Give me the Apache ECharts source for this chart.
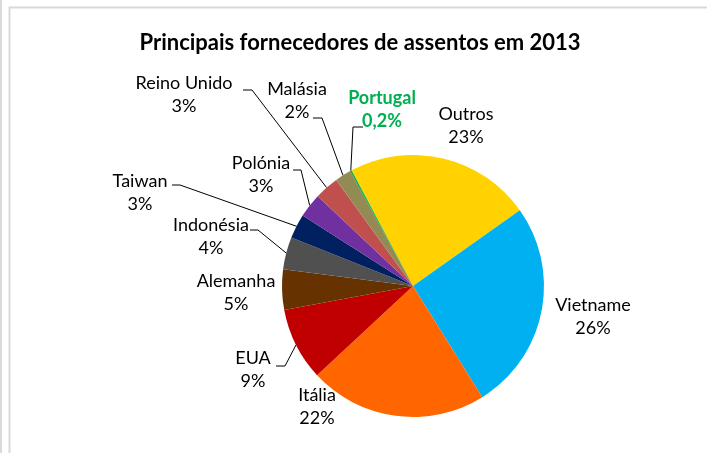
<!DOCTYPE html>
<html>
<head>
<meta charset="utf-8">
<script src="https://cdn.jsdelivr.net/npm/echarts@6/dist/echarts.min.js"></script>
<style>
html,body{margin:0;padding:0;background:#fff;}
#c{width:707px;height:453px;}
</style>
</head>
<body>
<div id="c"></div>
<script>
// ---- data ----
var categories = ['Outros','Vietname','Itália','EUA','Alemanha','Indonésia','Taiwan','Polónia','Reino Unido','Malásia','Portugal'];
var values = [23, 26, 22, 9, 5, 4, 3, 3, 3, 2, 0.2];
var titleText = 'Principais fornecedores de assentos em 2013';

// ---- styles / layout ----
var colors = ['#FFD200','#00B0F0','#FF6600','#C00000','#663300','#505050','#002060','#7030A0','#C0504D','#948A54','#00B050'];
var FONT = 'Lato';
// label block centres
var labelPos = [[466,126],[593,317],[317,407],[253,370],[236,293],[211,237],[140,193],[261,175],[184,95],[297,101],[382,110]];
// leader lines: [labelEnd, elbow] or null
var leader = [null,null,null,[[276,366],[285,366]],null,[[250,230],[258,230]],[[172,185],[180,185]],[[293,170],[301,170]],[[243,90],[252,90]],[[313,118],[322,118]],[[363,127],[353,127]]];

var chart = echarts.init(document.getElementById('c'));
var data = categories.map(function(n,i){
  var item = {name:n, value:values[i], itemStyle:{color:colors[i]}};
  item.labelLine = {show: !!leader[i]};
  if (n === 'Portugal') item.label = {color:'#00B050', fontWeight:'bold'};
  return item;
});

chart.setOption({
  animation:false,
  title:{text:titleText, left:355, top:27, textAlign:'center',
    textStyle:{fontFamily:FONT, fontWeight:'bold', fontSize:22, color:'#000'}},
  graphic:[
    {type:'line', shape:{x1:1,y1:0,x2:1,y2:453}, style:{stroke:'#d9d9d9', lineWidth:2}},
    {type:'line', shape:{x1:9.5,y1:7,x2:9.5,y2:453}, style:{stroke:'#d9d9d9', lineWidth:2}},
    {type:'line', shape:{x1:9,y1:7.5,x2:707,y2:7.5}, style:{stroke:'#d9d9d9', lineWidth:2}}
  ],
  series:[{
    type:'pie',
    center:[413,286],
    radius:131,
    startAngle:118,
    clockwise:true,
    avoidLabelOverlap:false,
    itemStyle:{borderWidth:0},
    label:{show:true, position:'outside', fontFamily:FONT, fontSize:18, color:'#000', lineHeight:23,
      align:'center',
      formatter:function(p){ return p.name + '\n' + String(p.value).replace('.', ',') + '%'; }},
    labelLine:{show:true, length:10, length2:10, lineStyle:{color:'#000', width:1}},
    labelLayout:function(p){
      var i = p.dataIndex;
      var r = {x:labelPos[i][0], y:labelPos[i][1], align:'center', verticalAlign:'middle'};
      if (leader[i] && p.labelLinePoints) {
        var s = p.labelLinePoints[0];
        r.labelLinePoints = [[s[0],s[1]], leader[i][1], leader[i][0]];
      }
      return r;
    },
    emphasis:{disabled:true},
    data:data
  }]
});
</script>
</body>
</html>
